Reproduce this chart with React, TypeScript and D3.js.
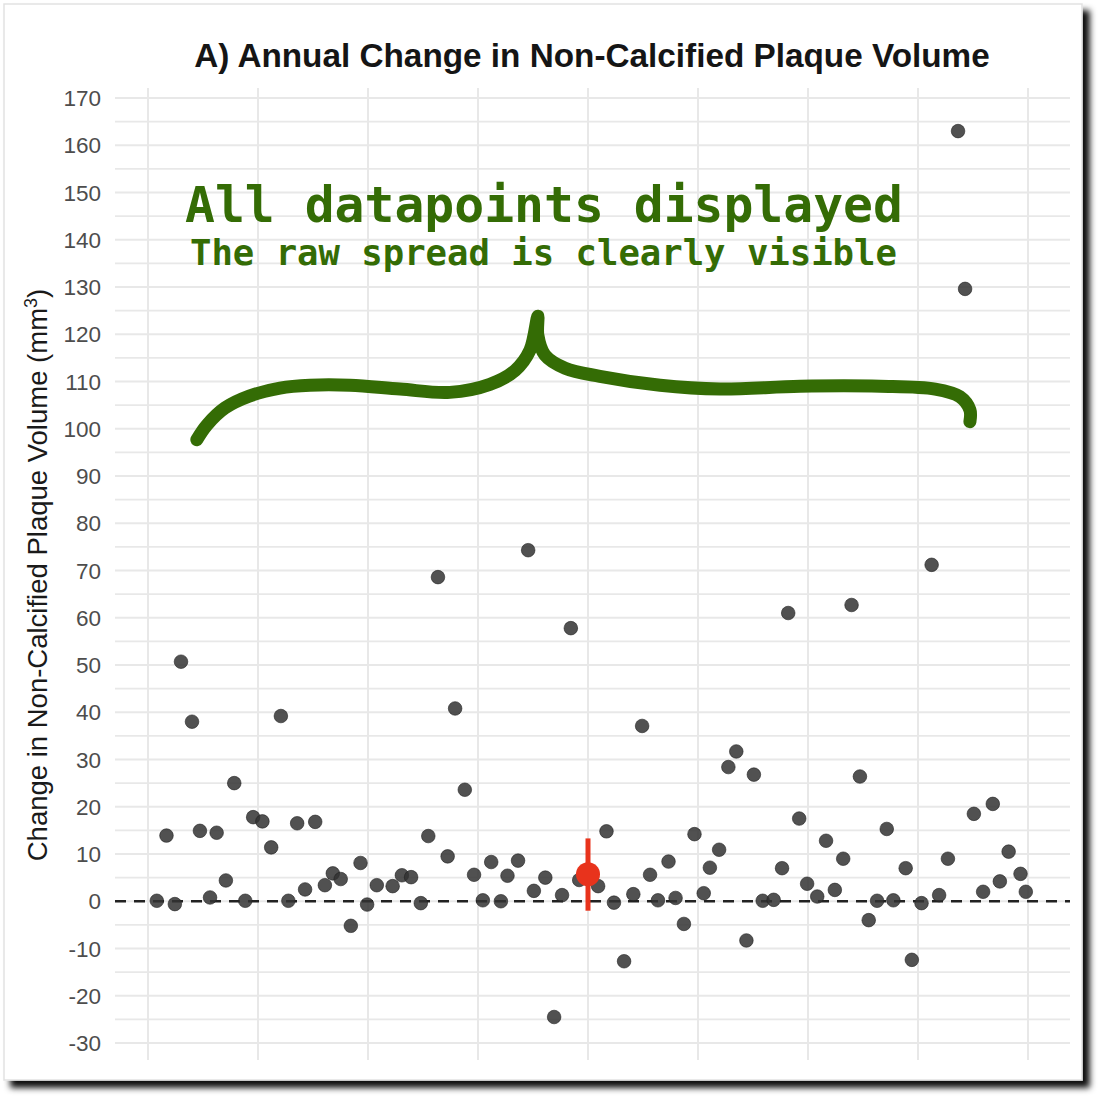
import React from 'react';
import * as d3 from 'd3';

// jitter position (-1..1) and annual change (mm3) per participant
const jitterX = [
  -0.98, -0.958, -0.939, -0.925, -0.9, -0.882, -0.859, -0.844, -0.823, -0.804,
  -0.779, -0.761, -0.74, -0.72, -0.698, -0.681, -0.661, -0.643, -0.62, -0.598,
  -0.58, -0.562, -0.539, -0.517, -0.502, -0.48, -0.444, -0.423, -0.402, -0.38,
  -0.363, -0.341, -0.319, -0.302, -0.28, -0.259, -0.239, -0.22, -0.198, -0.183,
  -0.159, -0.136, -0.123, -0.097, -0.077, -0.059, -0.039, -0.02, 0.023, 0.042,
  0.059, 0.082, 0.103, 0.123, 0.141, 0.159, 0.183, 0.199, 0.218, 0.242,
  0.263, 0.277, 0.298, 0.319, 0.337, 0.36, 0.377, 0.397, 0.422, 0.441,
  0.455, 0.48, 0.498, 0.521, 0.541, 0.561, 0.58, 0.599, 0.618, 0.638,
  0.657, 0.679, 0.694, 0.722, 0.736, 0.758, 0.781, 0.798, 0.818, 0.841,
  0.857, 0.877, 0.898, 0.92, 0.936, 0.956, 0.983, 0.995,
];
const change = [
  0.1, 13.9, -0.6, 50.7, 38.0, 14.9, 0.8, 14.5, 4.4, 25.0,
  0.1, 17.8, 16.9, 11.4, 39.2, 0.1, 16.5, 2.5, 16.8, 3.4,
  5.9, 4.7, -5.2, 8.1, -0.7, 3.4, 3.2, 5.5, 5.1, -0.4,
  13.8, 68.6, 9.5, 40.8, 23.6, 5.6, 0.2, 8.3, 0.0, 5.4,
  8.6, 74.3, 2.2, 5.0, -24.5, 1.3, 57.8, 4.5, 3.2, 14.8,
  -0.3, -12.7, 1.5, 37.1, 5.6, 0.2, 8.4, 0.7, -4.8, 14.2,
  1.7, 7.1, 10.9, 28.4, 31.7, -8.3, 26.8, 0.1, 0.3, 7.0,
  61.0, 17.5, 3.7, 1.0, 12.8, 2.4, 9.0, 62.7, 26.4, -4.0,
  0.1, 15.3, 0.2, 7.0, -12.4, -0.4, 71.2, 1.3, 9.0, 163.0,
  129.6, 18.5, 2.0, 20.6, 4.2, 10.5, 5.8, 2.0,
];

// summary: mean and interval
const meanChange = 5.7;
const ciLow = -2.0;
const ciHigh = 13.3;

const yTicks = d3.range(-30, 171, 10);
const yMinor = d3.range(-25, 171, 10);
const xGrid = d3.range(-1, 1.01, 0.25);

// hand-drawn brace, in data units
const braceX = [
  -0.889, -0.866, -0.825, -0.77, -0.7, -0.632, -0.541, -0.427, -0.314, -0.223, -0.166,
  -0.132, -0.114, -0.114, -0.098, -0.052, 0.027, 0.164, 0.3, 0.482, 0.664,
  0.789, 0.845, 0.868, 0.868,
];
const braceY = [
  97.7, 100.8, 104.4, 106.9, 108.6, 109.2, 109.2, 108.4, 107.7, 109.4, 112.3,
  116.6, 123.8, 119.8, 115.6, 112.8, 111.1, 109.2, 108.4, 109.0, 109.0,
  108.4, 106.8, 104.0, 101.5,
];

const W = 1101;
const H = 1100;

const App = () => {
  const x = d3.scaleLinear().domain([-1, 1]).range([148, 1028]);
  const y = d3.scaleLinear().domain([-30, 170]).range([1043, 98]);
  const panel = { left: 115, right: 1070, top: 88, bottom: 1060 };

  const brace = d3
    .line<number>()
    .x((i) => x(braceX[i]))
    .y((i) => y(braceY[i]))
    .curve(d3.curveCatmullRom.alpha(0.5))(d3.range(braceX.length));

  const green = '#346c05';
  const sans = '"Liberation Sans", Arial, sans-serif';
  const mono = '"DejaVu Sans Mono", "Liberation Mono", monospace';

  return (
    <div style={{ position: 'absolute', left: 0, top: 0 }}>
      <svg width={W} height={H} style={{ display: 'block' }}>
        <defs>
          <filter id="shadow" x="-5%" y="-5%" width="115%" height="115%">
            <feDropShadow dx="7" dy="7" stdDeviation="3" floodColor="#000" floodOpacity="0.95" />
          </filter>
        </defs>
        <rect x={0} y={0} width={W} height={H} fill="#fff" />
        <rect x={4} y={4} width={1078} height={1076} fill="#fff" stroke="#e2e2e2" strokeWidth={1.5} filter="url(#shadow)" />

        {/* grid */}
        <g stroke="#e8e8e8">
          {yMinor.map((t) => (
            <line key={`m${t}`} x1={panel.left} x2={panel.right} y1={y(t)} y2={y(t)} strokeWidth={1.6} />
          ))}
          {yTicks.map((t) => (
            <line key={`t${t}`} x1={panel.left} x2={panel.right} y1={y(t)} y2={y(t)} strokeWidth={2} />
          ))}
          {xGrid.map((t) => (
            <line key={`x${t}`} x1={x(t)} x2={x(t)} y1={panel.top} y2={panel.bottom} strokeWidth={2} />
          ))}
        </g>

        {/* y tick labels */}
        <g fontFamily={sans} fontSize={22.5} fill="#4d4d4d" textAnchor="end">
          {yTicks.map((t) => (
            <text key={t} x={101} y={y(t)} dy="0.36em">
              {t}
            </text>
          ))}
        </g>

        <text
          transform={`translate(47,${575}) rotate(-90)`}
          fontFamily={sans}
          fontSize={27.5}
          fill="#1a1a1a"
          textAnchor="middle"
        >
          Change in Non-Calcified Plaque Volume (mm<tspan dy={-10} fontSize={18}>3</tspan>
          <tspan dy={10}>)</tspan>
        </text>

        <text x={592} y={67} fontFamily={sans} fontSize={33.3} fontWeight="bold" fill="#151515" textAnchor="middle">
          A) Annual Change in Non-Calcified Plaque Volume
        </text>

        {/* zero reference */}
        <line
          x1={panel.left}
          x2={panel.right}
          y1={y(0)}
          y2={y(0)}
          stroke="#222"
          strokeWidth={2.5}
          strokeDasharray="11 8"
        />

        {/* raw points */}
        <g>
          {change.map((v, i) => (
            <circle
              key={i}
              cx={x(jitterX[i])}
              cy={y(v)}
              r={6.8}
              fill="#333"
              fillOpacity={0.85}
              stroke="#1f1f1f"
              strokeOpacity={0.6}
              strokeWidth={1}
            />
          ))}
        </g>

        {/* mean and interval */}
        <line x1={x(0)} x2={x(0)} y1={y(ciLow)} y2={y(ciHigh)} stroke="#e8331c" strokeWidth={5} />
        <circle cx={x(0)} cy={y(meanChange)} r={12} fill="#e8331c" />

        {/* annotation */}
        <text x={185} y={222} fontFamily={mono} fontWeight="bold" fontSize={49.7} fill={green}>
          All datapoints displayed
        </text>
        <text x={190} y={265} fontFamily={mono} fontWeight="bold" fontSize={35.6} fill={green}>
          The raw spread is clearly visible
        </text>
        <path d={brace ?? ''} fill="none" stroke={green} strokeWidth={13} strokeLinecap="round" strokeLinejoin="round" />
      </svg>
    </div>
  );
};

export default App;
